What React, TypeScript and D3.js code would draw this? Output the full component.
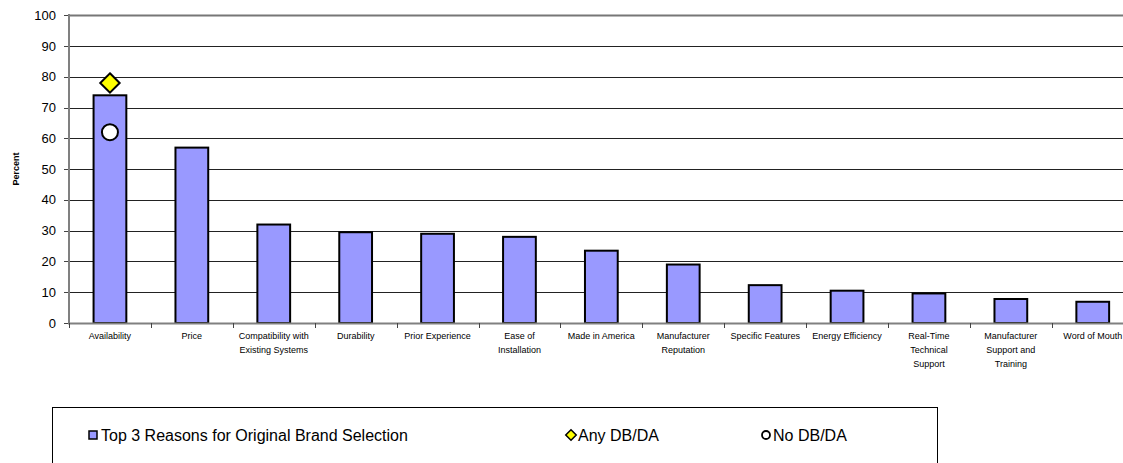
import React from "react";
import * as d3 from "d3";

const categories: string[] = [
  "Availability",
  "Price",
  "Compatibility with Existing Systems",
  "Durability",
  "Prior Experience",
  "Ease of Installation",
  "Made in America",
  "Manufacturer Reputation",
  "Specific Features",
  "Energy Efficiency",
  "Real-Time Technical Support",
  "Manufacturer Support and Training",
  "Word of Mouth",
];

const categoryLines: string[][] = [
  ["Availability"],
  ["Price"],
  ["Compatibility with", "Existing Systems"],
  ["Durability"],
  ["Prior Experience"],
  ["Ease of", "Installation"],
  ["Made in America"],
  ["Manufacturer", "Reputation"],
  ["Specific Features"],
  ["Energy Efficiency"],
  ["Real-Time", "Technical", "Support"],
  ["Manufacturer", "Support and", "Training"],
  ["Word of Mouth"],
];

const topReasons: number[] = [74, 57, 32, 29.5, 29, 28, 23.5, 19, 12.3, 10.5, 9.6, 7.8, 6.9];
const anyDbDa: { category: string; value: number }[] = [{ category: "Availability", value: 78 }];
const noDbDa: { category: string; value: number }[] = [{ category: "Availability", value: 62 }];

const yTicks: number[] = [0, 10, 20, 30, 40, 50, 60, 70, 80, 90, 100];

const W = 1123;
const H = 463;
const FONT = "Arial, 'Liberation Sans', Helvetica, sans-serif";

export default function App() {
  const x = d3.scaleBand<string>().domain(categories).range([69, 1133.7]).padding(0);
  const y = d3.scaleLinear().domain([0, 100]).range([323, 15.3]);
  const bw = x.bandwidth() * 0.4;
  const diamond = d3.symbol().type(d3.symbolDiamond2).size(240)();
  const legendDiamond = d3.symbol().type(d3.symbolDiamond2).size(70)();

  return (
    <svg
      width={W}
      height={H}
      style={{ position: "absolute", left: 0, top: 0, background: "#fff", overflow: "hidden" }}
      fontFamily={FONT}
    >
      <rect x={0} y={0} width={W} height={H} fill="#fff" />
      {/* gridlines */}
      {yTicks.filter((t) => t > 0).map((t) => (
        <line
          key={"g" + t}
          x1={69}
          x2={W}
          y1={Math.round(y(t)) + 0.5}
          y2={Math.round(y(t)) + 0.5}
          stroke={t === 100 ? "#777" : "#222"}
          strokeWidth={t === 100 ? 2 : 1}
        />
      ))}
      {/* y ticks and labels */}
      {yTicks.map((t) => (
        <g key={"yt" + t}>
          <line x1={64} x2={69} y1={Math.round(y(t)) + 0.5} y2={Math.round(y(t)) + 0.5} stroke="#444" />
          <text x={56} y={y(t)} dy="0.35em" textAnchor="end" fontSize={13} fill="#000">
            {t}
          </text>
        </g>
      ))}
      {/* bars */}
      {categories.map((c, i) => (
        <rect
          key={"b" + c}
          x={(x(c) as number) + x.bandwidth() / 2 - bw / 2}
          y={y(topReasons[i])}
          width={bw}
          height={y(0) - y(topReasons[i])}
          fill="#9999FF"
          stroke="#000"
          strokeWidth={2}
        />
      ))}
      {/* axes */}
      <line x1={69} x2={69} y1={14} y2={324} stroke="#808080" strokeWidth={2} />
      <line x1={68} x2={W} y1={323.5} y2={323.5} stroke="#808080" strokeWidth={2} />
      {categories.map((c) => (
        <line
          key={"xt" + c}
          x1={Math.round(x(c) as number) + 0.5}
          x2={Math.round(x(c) as number) + 0.5}
          y1={323}
          y2={328}
          stroke="#444"
        />
      ))}
      {/* x labels */}
      {categories.map((c, i) => (
        <text key={"xl" + c} textAnchor="middle" fontSize={9} fill="#000">
          {categoryLines[i].map((ln, j) => (
            <tspan key={j} x={(x(c) as number) + x.bandwidth() / 2} y={339 + j * 14}>
              {ln}
            </tspan>
          ))}
        </text>
      ))}
      {/* markers */}
      {anyDbDa.map((d) => (
        <path
          key={"a" + d.category}
          d={diamond as string}
          transform={`translate(${(x(d.category) as number) + x.bandwidth() / 2},${y(d.value)})`}
          fill="#FFFF00"
          stroke="#000"
          strokeWidth={2}
        />
      ))}
      {noDbDa.map((d) => (
        <circle
          key={"n" + d.category}
          cx={(x(d.category) as number) + x.bandwidth() / 2}
          cy={y(d.value)}
          r={8}
          fill="#fff"
          stroke="#000"
          strokeWidth={2}
        />
      ))}
      {/* y title */}
      <text
        transform="translate(19,169) rotate(-90)"
        textAnchor="middle"
        fontSize={9}
        fontWeight="bold"
        fill="#000"
      >
        Percent
      </text>
      {/* legend */}
      <rect x={52.5} y={407.5} width={885} height={70} fill="#fff" stroke="#000" strokeWidth={1} />
      <rect x={89} y={431} width={8} height={8} fill="#9999FF" stroke="#000" strokeWidth={1.5} />
      <text x={101} y={441} fontSize={16} fill="#000">
        Top 3 Reasons for Original Brand Selection
      </text>
      <path d={legendDiamond as string} transform="translate(571,435)" fill="#FFFF00" stroke="#000" strokeWidth={1.5} />
      <text x={578} y={441} fontSize={16} fill="#000">
        Any DB/DA
      </text>
      <circle cx={766} cy={435} r={4} fill="#fff" stroke="#000" strokeWidth={1.8} />
      <text x={773} y={441} fontSize={16} fill="#000">
        No DB/DA
      </text>
    </svg>
  );
}
